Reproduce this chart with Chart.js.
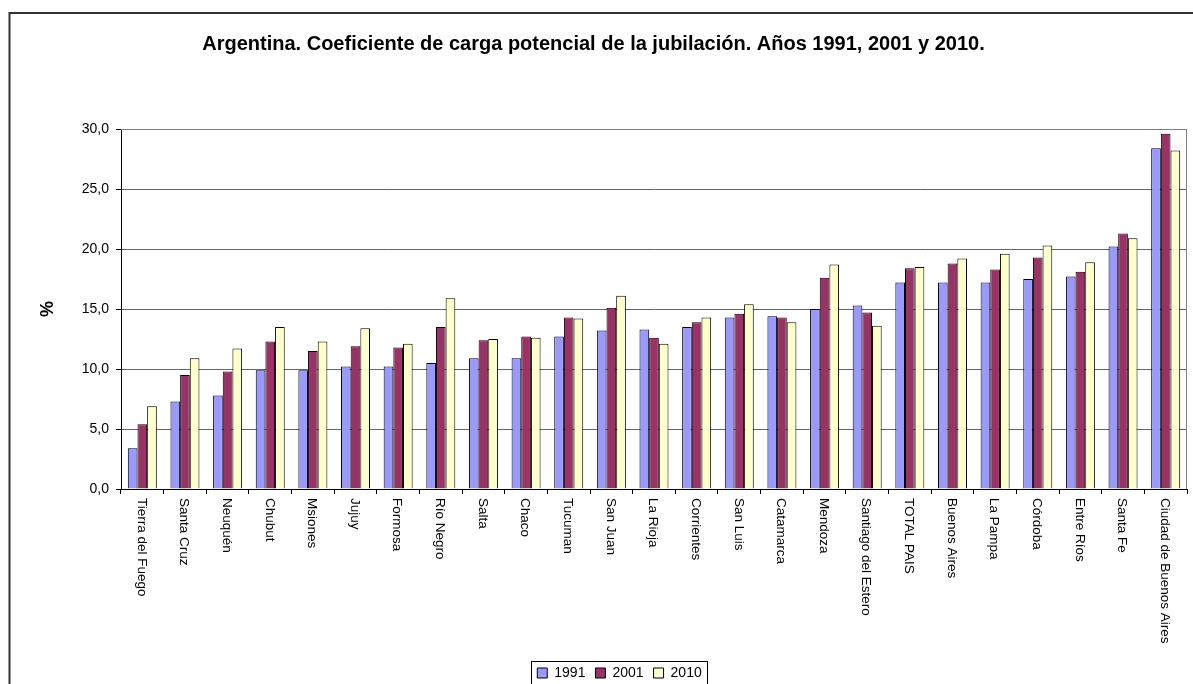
<!DOCTYPE html>
<html>
<head>
<meta charset="utf-8">
<script src="https://cdn.jsdelivr.net/npm/chart.js@4/dist/chart.umd.min.js"></script>
<style>
  html, body { margin: 0; padding: 0; background: #fff; }
  #wrap { width: 1193px; height: 684px; }
</style>
</head>
<body>
<div id="wrap"><canvas id="chart" width="1193" height="684"></canvas></div>
<script>
// DATA
let provinces = [
    "Tierra del Fuego", "Santa Cruz", "Neuquén", "Chubut", "Msiones",
    "Jujuy", "Formosa", "Río Negro", "Salta", "Chaco",
    "Tucuman", "San Juan", "La Rioja", "Corrientes", "San Luis",
    "Catamarca", "Mendoza", "Santiago del Estero", "TOTAL PAIS", "Buenos Aires",
    "La Pampa", "Córdoba", "Entre Ríos", "Santa Fe", "Ciudad de Buenos Aires",
];
let years = ["1991", "2001", "2010"];
let values1991 = [3.4, 7.3, 7.8, 9.9, 9.9, 10.2, 10.2, 10.5, 10.9, 10.9, 12.7, 13.2, 13.3, 13.5, 14.3, 14.4, 15.0, 15.3, 17.2, 17.2, 17.2, 17.5, 17.7, 20.2, 28.4];
let values2001 = [5.4, 9.5, 9.8, 12.3, 11.5, 11.9, 11.8, 13.5, 12.4, 12.7, 14.3, 15.1, 12.6, 13.9, 14.6, 14.3, 17.6, 14.7, 18.4, 18.8, 18.3, 19.3, 18.1, 21.3, 29.6];
let values2010 = [6.9, 10.9, 11.7, 13.5, 12.3, 13.4, 12.1, 15.9, 12.5, 12.6, 14.2, 16.1, 12.1, 14.3, 15.4, 13.9, 18.7, 13.6, 18.5, 19.2, 19.6, 20.3, 18.9, 20.9, 28.2];
let colors = ["#9999FF", "#993366", "#FFFFCC"];

const FONT = '"Liberation Sans", Arial, sans-serif';

// frame around the whole chart, plot border, legend box, rotated labels
const decorPlugin = {
    id: "decor",
    beforeDraw(chart) {
        const ctx = chart.ctx;
        ctx.save();
        ctx.strokeStyle = "#333";
        ctx.lineWidth = 2;
        ctx.beginPath();
        ctx.moveTo(9.5, 684);
        ctx.lineTo(9.5, 13);
        ctx.lineTo(1193, 13);
        ctx.stroke();
        ctx.restore();
    },
    afterLayout(chart) {
        chart.legend.left += 26;
        chart.legend.right += 26;
    },
    afterDraw(chart) {
        const {ctx, chartArea, scales: {x}} = chart;
        ctx.save();
        // plot area border (top & right)
        ctx.strokeStyle = "#808080";
        ctx.lineWidth = 1;
        ctx.beginPath();
        ctx.moveTo(chartArea.left, chartArea.top + 0.5);
        ctx.lineTo(chartArea.right - 0.5, chartArea.top + 0.5);
        ctx.lineTo(chartArea.right - 0.5, chartArea.bottom);
        ctx.stroke();

        // category labels, reading top to bottom
        ctx.font = "13.5px " + FONT;
        ctx.fillStyle = "#000";
        ctx.textAlign = "left";
        ctx.textBaseline = "middle";
        provinces.forEach((p, i) => {
            ctx.save();
            ctx.translate(x.getPixelForValue(i) - 1, chartArea.bottom + 9);
            ctx.rotate(Math.PI / 2);
            ctx.fillText(p, 0, 0);
            ctx.restore();
        });

        // legend frame
        const lg = chart.legend;
        const pad = lg.options.labels.padding;
        const w = lg.lineWidths[0] - pad;
        const cx = (lg.left + lg.right) / 2;
        ctx.strokeStyle = "#000";
        ctx.lineWidth = 1;
        ctx.strokeRect(Math.round(cx - w / 2 - 6) + 0.5, lg.top + pad + 7 - 11.5, Math.round(w + 12), 40);
        ctx.restore();
    }
};

new Chart("chart", {
    type: "bar",
    data: {
        labels: provinces,
        datasets: [
            { label: years[0], data: values1991, backgroundColor: colors[0] },
            { label: years[1], data: values2001, backgroundColor: colors[1] },
            { label: years[2], data: values2010, backgroundColor: colors[2] },
        ].map(d => Object.assign(d, {
            borderColor: "#000",
            borderWidth: 1,
            categoryPercentage: 0.68,
            barPercentage: 1.0,
        })),
    },
    options: {
        responsive: false,
        animation: false,
        layout: { padding: { left: 0, right: 6, top: 0, bottom: -6 } },
        plugins: {
            title: {
                display: true,
                text: "Argentina. Coeficiente de carga potencial de la jubilación. Años 1991, 2001 y 2010.",
                color: "#000",
                font: { family: FONT, size: 20, weight: "bold" },
                padding: { top: 32, bottom: 73 },
            },
            legend: {
                position: "bottom",
                labels: {
                    color: "#000",
                    font: { family: FONT, size: 14 },
                    boxWidth: 10,
                    boxHeight: 10,
                    padding: 10,
                },
            },
            tooltip: { enabled: false },
        },
        scales: {
            x: {
                ticks: { display: false },
                grid: { offset: true, drawOnChartArea: false, tickLength: 5, color: "#000" },
                border: { color: "#000" },
                afterFit(scale) { scale.height = 167; },
            },
            y: {
                min: 0,
                max: 30,
                ticks: {
                    stepSize: 5,
                    color: "#000",
                    padding: 7,
                    font: { family: FONT, size: 14 },
                    callback: v => v.toFixed(1).replace(".", ","),
                },
                grid: { color: "#666", tickColor: "#000", tickLength: 5 },
                border: { color: "#000" },
                title: {
                    display: true,
                    text: "%",
                    color: "#000",
                    font: { family: FONT, size: 18, weight: "bold" },
                    padding: { top: 37, bottom: 0 },
                },
                afterFit(scale) { scale.width = 121; },
            },
        },
    },
    plugins: [decorPlugin],
});
</script>
</body>
</html>
